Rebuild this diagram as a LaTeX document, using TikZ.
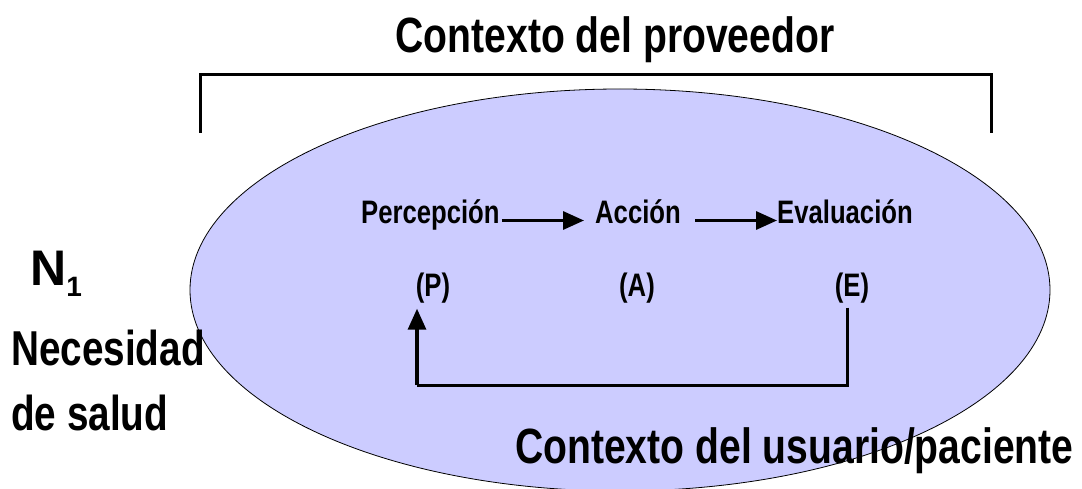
\documentclass[tikz,border=0pt]{standalone}
\usepackage{fontspec}
\setmainfont{Liberation Sans}[FakeStretch=0.79]
\newfontfamily\widefont{Liberation Sans}
\usetikzlibrary{arrows.meta}
\definecolor{lav}{RGB}{204,204,255}
\begin{document}
\begin{tikzpicture}[x=1pt,y=-1pt,
  big/.style={font=\bfseries\fontsize{49.5}{52}\selectfont, inner sep=0pt, anchor=base west},
  side/.style={font=\bfseries\fontsize{49}{52}\selectfont, inner sep=0pt, anchor=base west},
  lbl/.style={font=\bfseries\fontsize{32.5}{34}\selectfont, inner sep=0pt, anchor=base west, text height=0.95em, text depth=0.25em},
  arr/.style={line width=3.2pt, -{Triangle[length=21pt,width=18pt]}},
  bracketline/.style={line width=3pt}
]
\useasboundingbox (0,0) rectangle (1082,489);
% bracket
\coordinate (bl) at (200,133);
\coordinate (br) at (991,133);
\draw[bracketline] (bl) -- (200,75) -- (991,75) -- (br);
% ellipse
\draw[fill=lav, line width=0.8pt] (620,290) ellipse [x radius=430pt, y radius=201pt];
% titles
\node[big, anchor=base] (prov) at (615,53) {Contexto del proveedor};
\node[big] (usu) at (515,463) {Contexto del usuario/paciente};
% left texts
\node[side, font=\widefont\bfseries\fontsize{50}{54}\selectfont] (n1) at (30,286) {N\raisebox{-0.22em}{\fontsize{28}{30}\selectfont 1}};
\node[side] (nec) at (11,365) {Necesidad};
\node[side] (sal) at (11,430) {de salud};
% process
\node[lbl] (perc) at (361,224) {Percepción};
\node[lbl] (acc) at (595,224) {Acción};
\node[lbl] (eva) at (777,224) {Evaluación};
\node[lbl, anchor=base] (p) at (433,297) {(P)};
\node[lbl, anchor=base] (a) at (637,297) {(A)};
\node[lbl, anchor=base] (e) at (852,297) {(E)};
\draw[arr] ([xshift=2pt]perc.east) -- ([xshift=-11pt]acc.west);
\draw[arr] ([xshift=14pt]acc.east) -- (eva.west);
\coordinate (loop) at (0,385);
\draw[line width=3pt] ([xshift=-5pt,yshift=-8pt]e.south) -- ([xshift=-5pt]e.south |- loop) -- ([xshift=-16pt]p.south |- loop);
\draw[arr] ([xshift=-16pt]p.south |- loop) -- ([xshift=-16pt,yshift=-9pt]p.south);
\end{tikzpicture}
\end{document}
